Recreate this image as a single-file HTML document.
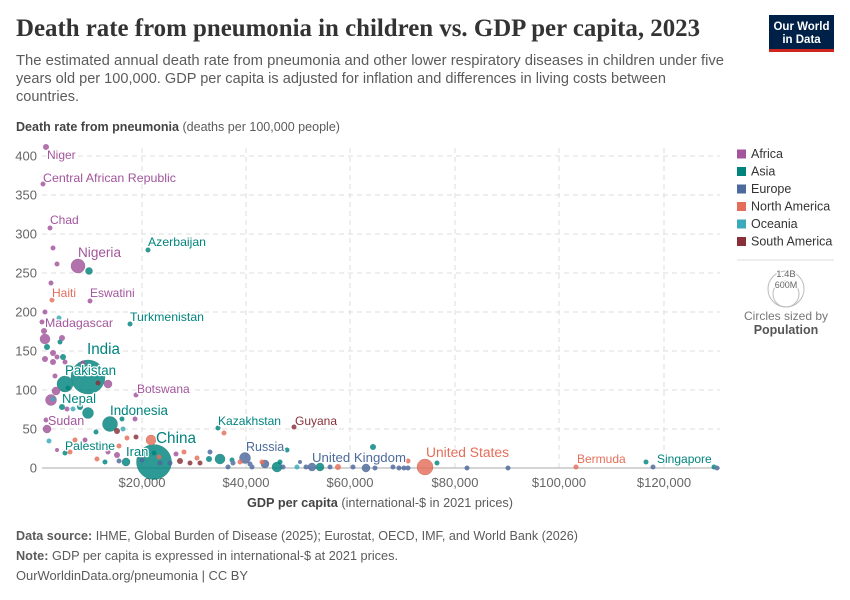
<!DOCTYPE html>
<html><head><meta charset="utf-8"><style>
html,body{margin:0;padding:0;background:#fff;}
svg{display:block;font-family:"Liberation Sans",sans-serif;}
.lbl{paint-order:stroke;stroke:#fff;stroke-width:2.5px;stroke-linejoin:round;}
</style></head><body>
<svg width="850" height="600" viewBox="0 0 850 600" xmlns="http://www.w3.org/2000/svg">
<rect width="850" height="600" fill="#fff"/>
<!-- Title -->
<text x="16" y="36" font-family="Liberation Serif, serif" font-size="25" font-weight="bold" fill="#333" textLength="684" lengthAdjust="spacingAndGlyphs">Death rate from pneumonia in children vs. GDP per capita, 2023</text>
<text x="16" y="65" font-size="14.5" fill="#5b5b5b" textLength="708" lengthAdjust="spacingAndGlyphs">The estimated annual death rate from pneumonia and other lower respiratory diseases in children under five</text>
<text x="16" y="83" font-size="14.5" fill="#5b5b5b" textLength="650" lengthAdjust="spacingAndGlyphs">years old per 100,000. GDP per capita is adjusted for inflation and differences in living costs between</text>
<text x="16" y="101" font-size="14.5" fill="#5b5b5b" textLength="63" lengthAdjust="spacingAndGlyphs">countries.</text>
<!-- Logo -->
<rect x="769" y="15" width="65" height="37" fill="#002147"/>
<rect x="769" y="49" width="65" height="3" fill="#ce261e"/>
<text x="801.5" y="30" font-size="11.5" font-weight="bold" fill="#fff" text-anchor="middle">Our World</text>
<text x="801.5" y="43" font-size="11.5" font-weight="bold" fill="#fff" text-anchor="middle">in Data</text>
<!-- Y title -->
<text x="16" y="131" font-size="12.5" fill="#5b5b5b" textLength="324" lengthAdjust="spacingAndGlyphs"><tspan font-weight="bold" fill="#444">Death rate from pneumonia</tspan> (deaths per 100,000 people)</text>
<!-- Grid -->
<g stroke="#ddd" stroke-width="1" stroke-dasharray="5,4" fill="none">
<line x1="42" y1="156" x2="720" y2="156"/>
<line x1="42" y1="195" x2="720" y2="195"/>
<line x1="42" y1="234" x2="720" y2="234"/>
<line x1="42" y1="273" x2="720" y2="273"/>
<line x1="42" y1="312" x2="720" y2="312"/>
<line x1="42" y1="351" x2="720" y2="351"/>
<line x1="42" y1="390" x2="720" y2="390"/>
<line x1="42" y1="429" x2="720" y2="429"/>
<line x1="142" y1="148" x2="142" y2="468"/>
<line x1="246" y1="148" x2="246" y2="468"/>
<line x1="350" y1="148" x2="350" y2="468"/>
<line x1="455" y1="148" x2="455" y2="468"/>
<line x1="559" y1="148" x2="559" y2="468"/>
<line x1="664" y1="148" x2="664" y2="468"/>
</g>
<line x1="42" y1="468" x2="720" y2="468" stroke="#bbb" stroke-width="1.2"/>
<!-- Y labels -->
<g font-size="13" fill="#666" text-anchor="end">
<text x="37" y="160.5">400</text>
<text x="37" y="199.5">350</text>
<text x="37" y="238.5">300</text>
<text x="37" y="277.5">250</text>
<text x="37" y="316.5">200</text>
<text x="37" y="355.5">150</text>
<text x="37" y="394.5">100</text>
<text x="37" y="433.5">50</text>
<text x="37" y="472.5">0</text>
</g>
<!-- X labels -->
<g font-size="13" fill="#666" text-anchor="middle">
<text x="142" y="487">$20,000</text>
<text x="246" y="487">$40,000</text>
<text x="350" y="487">$60,000</text>
<text x="455" y="487">$80,000</text>
<text x="559" y="487">$100,000</text>
<text x="664" y="487">$120,000</text>
</g>
<text x="247" y="507" font-size="12.5" fill="#5b5b5b" textLength="266" lengthAdjust="spacingAndGlyphs"><tspan font-weight="bold" fill="#444">GDP per capita</tspan> (international-$ in 2021 prices)</text>
<!-- Points -->
<g opacity="0.82" stroke-width="0.4">
<circle cx="88" cy="377" r="17" fill="#00847e" stroke="#00605b"/>
<circle cx="154" cy="462" r="17.5" fill="#00847e" stroke="#00605b"/>
<circle cx="65" cy="384" r="8" fill="#00847e" stroke="#00605b"/>
<circle cx="425" cy="467" r="8" fill="#e56e5a" stroke="#b5503f"/>
<circle cx="110" cy="424" r="7.5" fill="#00847e" stroke="#00605b"/>
<circle cx="78" cy="266" r="7" fill="#a2559c" stroke="#7c3f78"/>
<circle cx="245" cy="458" r="5.5" fill="#4c6a9c" stroke="#384f75"/>
<circle cx="88" cy="413" r="5.5" fill="#00847e" stroke="#00605b"/>
<circle cx="51" cy="400" r="5.5" fill="#a2559c" stroke="#7c3f78"/>
<circle cx="45" cy="339" r="5" fill="#a2559c" stroke="#7c3f78"/>
<circle cx="220" cy="459" r="5" fill="#00847e" stroke="#00605b"/>
<circle cx="277" cy="467" r="5" fill="#00847e" stroke="#00605b"/>
<circle cx="151" cy="440" r="5" fill="#e56e5a" stroke="#b5503f"/>
<circle cx="56" cy="391" r="4" fill="#a2559c" stroke="#7c3f78"/>
<circle cx="108" cy="384" r="4" fill="#a2559c" stroke="#7c3f78"/>
<circle cx="47" cy="429" r="4" fill="#a2559c" stroke="#7c3f78"/>
<circle cx="126" cy="462" r="4" fill="#00847e" stroke="#00605b"/>
<circle cx="312" cy="467" r="4" fill="#4c6a9c" stroke="#384f75"/>
<circle cx="320" cy="467" r="4" fill="#00847e" stroke="#00605b"/>
<circle cx="366" cy="468" r="4" fill="#4c6a9c" stroke="#384f75"/>
<circle cx="265" cy="464" r="4" fill="#4c6a9c" stroke="#384f75"/>
<circle cx="89" cy="271" r="3.5" fill="#00847e" stroke="#00605b"/>
</g>
<g opacity="0.82">
<g fill="#a2559c">
<circle cx="46" cy="147" r="3"/><circle cx="43" cy="184" r="2.5"/><circle cx="50" cy="228" r="2.5"/>
<circle cx="53" cy="248" r="2.5"/><circle cx="57" cy="264" r="2.5"/><circle cx="51" cy="283" r="2.5"/>
<circle cx="90" cy="301" r="2.5"/><circle cx="45" cy="312" r="2.5"/><circle cx="42" cy="322" r="2.5"/>
<circle cx="44" cy="331" r="3"/><circle cx="62" cy="338" r="3"/><circle cx="53" cy="353" r="3"/>
<circle cx="57" cy="357" r="2.5"/><circle cx="45" cy="359" r="3"/><circle cx="53" cy="362" r="3"/>
<circle cx="65" cy="362" r="2.5"/><circle cx="55" cy="376" r="2.5"/><circle cx="83" cy="363" r="2.5"/>
<circle cx="67" cy="409" r="2.5"/><circle cx="135" cy="419" r="2.5"/><circle cx="136" cy="395" r="2.5"/>
<circle cx="46" cy="420" r="2.5"/><circle cx="85" cy="440" r="2.5"/><circle cx="108" cy="452" r="2.5"/>
<circle cx="117" cy="455" r="3"/><circle cx="176" cy="454" r="2.5"/><circle cx="57" cy="450" r="2"/>
</g>
<g fill="#00847e">
<circle cx="148" cy="250" r="2.5"/><circle cx="130" cy="324" r="2.5"/><circle cx="60" cy="342" r="2.5"/>
<circle cx="47" cy="347" r="3"/><circle cx="63" cy="357" r="3"/><circle cx="68" cy="388" r="2.5"/>
<circle cx="62" cy="407" r="3"/><circle cx="80" cy="407" r="3"/><circle cx="122" cy="419" r="2.5"/>
<circle cx="96" cy="432" r="2.5"/><circle cx="65" cy="453" r="2.5"/><circle cx="105" cy="462" r="2.5"/>
<circle cx="154" cy="453" r="2.5"/><circle cx="209" cy="459" r="3"/><circle cx="218" cy="428" r="2.5"/>
<circle cx="232" cy="460" r="2.5"/><circle cx="280" cy="462" r="2.5"/><circle cx="287" cy="450" r="2.5"/>
<circle cx="373" cy="447" r="3"/><circle cx="437" cy="463" r="2.5"/><circle cx="646" cy="462" r="2.5"/>
<circle cx="714" cy="467" r="2.5"/>
</g>
<g fill="#4c6a9c">
<circle cx="119" cy="461" r="2.5"/><circle cx="142" cy="460" r="2.5"/><circle cx="160" cy="463" r="2.5"/>
<circle cx="170" cy="463" r="2.5"/><circle cx="210" cy="452" r="2.5"/><circle cx="228" cy="467" r="2.5"/>
<circle cx="233" cy="463" r="2.5"/><circle cx="250" cy="464" r="2.5"/><circle cx="252" cy="467" r="2.5"/>
<circle cx="283" cy="467" r="2.5"/><circle cx="306" cy="467" r="2.5"/><circle cx="330" cy="467" r="2.5"/>
<circle cx="353" cy="467" r="2.5"/><circle cx="375" cy="468" r="2.5"/><circle cx="393" cy="467" r="2.5"/>
<circle cx="399" cy="468" r="2.5"/><circle cx="404" cy="468" r="2.5"/><circle cx="408" cy="468" r="2.5"/>
<circle cx="467" cy="468" r="2.5"/><circle cx="508" cy="468" r="2.5"/><circle cx="653" cy="467" r="2.5"/>
<circle cx="717" cy="468" r="2.5"/><circle cx="300" cy="462" r="2"/>
</g>
<g fill="#e56e5a">
<circle cx="52" cy="300" r="2.5"/><circle cx="70" cy="452" r="2.5"/><circle cx="75" cy="440" r="2.5"/>
<circle cx="97" cy="459" r="2.5"/><circle cx="127" cy="438" r="2.5"/><circle cx="119" cy="446" r="2.5"/>
<circle cx="159" cy="457" r="2.5"/><circle cx="184" cy="452" r="2.5"/><circle cx="197" cy="458" r="2.5"/>
<circle cx="224" cy="433" r="2.5"/><circle cx="240" cy="462" r="2.5"/><circle cx="262" cy="462" r="2.5"/>
<circle cx="338" cy="467" r="3"/><circle cx="408" cy="461" r="2.5"/><circle cx="576" cy="467" r="2.5"/>
</g>
<g fill="#38aaba">
<circle cx="59" cy="318" r="2.5"/><circle cx="53" cy="399" r="2.5"/><circle cx="73" cy="409" r="2.5"/>
<circle cx="123" cy="429" r="2.5"/><circle cx="49" cy="441" r="2.5"/><circle cx="297" cy="467" r="2.5"/>
</g>
<g fill="#883039">
<circle cx="98" cy="383" r="2.5"/><circle cx="117" cy="431" r="3"/><circle cx="136" cy="437" r="2.5"/>
<circle cx="180" cy="461" r="3"/><circle cx="190" cy="463" r="2.5"/><circle cx="200" cy="463" r="2.5"/>
<circle cx="294" cy="427" r="2.5"/>
</g>
</g>
<!-- Labels -->
<g class="lbl">
<text x="47" y="159" font-size="12" fill="#a2559c">Niger</text>
<text x="43" y="182" font-size="12" fill="#a2559c" textLength="133" lengthAdjust="spacingAndGlyphs">Central African Republic</text>
<text x="50" y="224" font-size="12" fill="#a2559c">Chad</text>
<text x="78" y="257" font-size="13.5" fill="#a2559c" textLength="43" lengthAdjust="spacingAndGlyphs">Nigeria</text>
<text x="148" y="246" font-size="12" fill="#00847e" textLength="58" lengthAdjust="spacingAndGlyphs">Azerbaijan</text>
<text x="52" y="297" font-size="12" fill="#e56e5a">Haiti</text>
<text x="90" y="297" font-size="12" fill="#a2559c">Eswatini</text>
<text x="130" y="321" font-size="12" fill="#00847e" textLength="74" lengthAdjust="spacingAndGlyphs">Turkmenistan</text>
<text x="45" y="327" font-size="12" fill="#a2559c" textLength="68" lengthAdjust="spacingAndGlyphs">Madagascar</text>
<text x="87" y="354" font-size="15.5" fill="#00847e" textLength="33" lengthAdjust="spacingAndGlyphs">India</text>
<text x="65" y="375" font-size="13.5" fill="#00847e" textLength="51" lengthAdjust="spacingAndGlyphs">Pakistan</text>
<text x="137" y="393" font-size="12" fill="#a2559c">Botswana</text>
<text x="62" y="403" font-size="13" fill="#00847e">Nepal</text>
<text x="110" y="415" font-size="13.5" fill="#00847e" textLength="58" lengthAdjust="spacingAndGlyphs">Indonesia</text>
<text x="48" y="425" font-size="12.5" fill="#a2559c">Sudan</text>
<text x="65" y="450" font-size="12" fill="#00847e" textLength="50" lengthAdjust="spacingAndGlyphs">Palestine</text>
<text x="126" y="456" font-size="13" fill="#00847e">Iran</text>
<text x="156" y="443" font-size="16" fill="#00847e" textLength="40" lengthAdjust="spacingAndGlyphs">China</text>
<text x="218" y="425" font-size="12" fill="#00847e" textLength="63" lengthAdjust="spacingAndGlyphs">Kazakhstan</text>
<text x="295" y="425" font-size="12" fill="#883039">Guyana</text>
<text x="246" y="451" font-size="12.5" fill="#4c6a9c">Russia</text>
<text x="312" y="462" font-size="13" fill="#4c6a9c" textLength="94" lengthAdjust="spacingAndGlyphs">United Kingdom</text>
<text x="426" y="457" font-size="13.5" fill="#e56e5a" textLength="83" lengthAdjust="spacingAndGlyphs">United States</text>
<text x="577" y="463" font-size="12" fill="#e56e5a">Bermuda</text>
<text x="657" y="463" font-size="12" fill="#00847e">Singapore</text>
</g>
<!-- Legend -->
<g font-size="12.5" fill="#333">
<rect x="737" y="149.5" width="9" height="9" fill="#a2559c"/><text x="751" y="158">Africa</text>
<rect x="737" y="167" width="9" height="9" fill="#00847e"/><text x="751" y="175.5">Asia</text>
<rect x="737" y="184.5" width="9" height="9" fill="#4c6a9c"/><text x="751" y="193">Europe</text>
<rect x="737" y="202" width="9" height="9" fill="#e56e5a"/><text x="751" y="210.5">North America</text>
<rect x="737" y="219.5" width="9" height="9" fill="#38aaba"/><text x="751" y="228">Oceania</text>
<rect x="737" y="237" width="9" height="9" fill="#883039"/><text x="751" y="245.5">South America</text>
</g>
<line x1="737" y1="260" x2="834" y2="260" stroke="#ddd" stroke-width="1"/>
<circle cx="786" cy="289" r="18" fill="none" stroke="#bbb" stroke-width="1"/>
<circle cx="786" cy="294" r="13" fill="none" stroke="#bbb" stroke-width="1"/>
<text x="786" y="277" font-size="9.5" fill="#666" text-anchor="middle" class="lbl">1.4B</text>
<text x="786" y="288" font-size="9" fill="#666" text-anchor="middle" class="lbl">600M</text>
<text x="786" y="320" font-size="12" fill="#777" text-anchor="middle">Circles sized by</text>
<text x="786" y="334" font-size="12.5" font-weight="bold" fill="#555" text-anchor="middle">Population</text>
<!-- Footer -->
<text x="16" y="540" font-size="12.5" fill="#5b5b5b" textLength="562" lengthAdjust="spacingAndGlyphs"><tspan font-weight="bold">Data source:</tspan> IHME, Global Burden of Disease (2025); Eurostat, OECD, IMF, and World Bank (2026)</text>
<text x="16" y="560" font-size="12.5" fill="#5b5b5b" textLength="382" lengthAdjust="spacingAndGlyphs"><tspan font-weight="bold">Note:</tspan> GDP per capita is expressed in international-$ at 2021 prices.</text>
<text x="16" y="580" font-size="12.5" fill="#5b5b5b" textLength="232" lengthAdjust="spacingAndGlyphs">OurWorldinData.org/pneumonia | CC BY</text>
</svg>
</body></html>
